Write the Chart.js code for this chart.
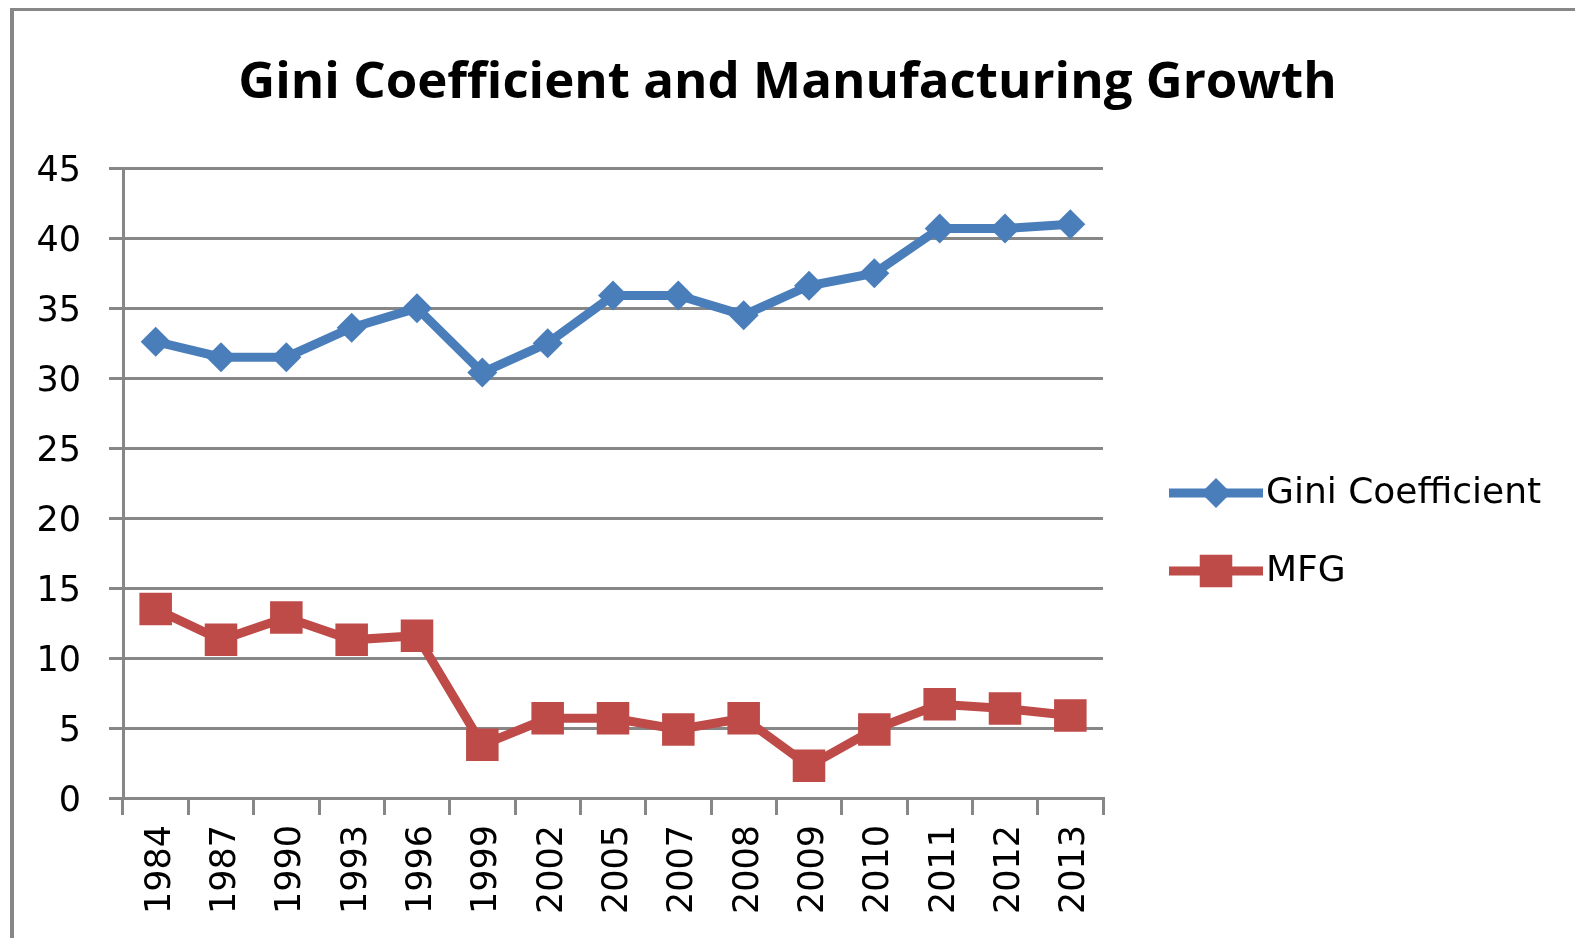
<!DOCTYPE html>
<html>
<head>
<meta charset="utf-8">
<title>Gini Coefficient and Manufacturing Growth</title>
<script src="https://cdn.jsdelivr.net/npm/chart.js@4.4.1/dist/chart.umd.min.js"></script>
<style>
  html, body { margin: 0; padding: 0; background: #fff; overflow: hidden; }
  #wrap { position: relative; width: 1575px; height: 938px; }
  #frame {
    position: absolute; left: 10px; top: 8px; width: 1600px; height: 960px;
    border-top: 3px solid #878787; border-left: 4px solid #878787;
  }
  #chart { position: absolute; left: 0; top: 0; }
</style>
</head>
<body>
<div id="wrap">
  <div id="frame"></div>
  <canvas id="chart" width="1575" height="938"></canvas>
</div>
<script>
// CHART DATA
const years = ["1984", "1987", "1990", "1993", "1996", "1999", "2002", "2005",
  "2007", "2008", "2009", "2010", "2011", "2012", "2013"]
const gini = [32.6, 31.5, 31.5, 33.6, 35.0, 30.4, 32.5, 35.9, 35.9, 34.5, 36.6,
  37.5, 40.7, 40.7, 41.0]
const mfg = [13.5, 11.3, 12.9, 11.3, 11.6, 3.8, 5.7, 5.7, 4.9, 5.7, 2.3, 4.9,
  6.7, 6.4, 5.9]
const seriesNames = ["Gini Coefficient", "MFG"]

const BLUE = "#4A7EBB"
const RED = "#BE4B48"
const GRID = "#878787"
const TICK_FONT = { family: "DejaVu Sans", size: 35 }

// legend on the right: line with the series marker in the middle
const sideLegend = {
  id: "sideLegend",
  afterDraw(chart) {
    const ctx = chart.ctx
    const rows = [493, 571]
    const x0 = 1169, x1 = 1263
    chart.data.datasets.forEach((ds, i) => {
      const y = rows[i]
      ctx.save()
      ctx.strokeStyle = ds.borderColor
      ctx.lineWidth = ds.borderWidth
      ctx.beginPath()
      ctx.moveTo(x0, y)
      ctx.lineTo(x1, y)
      ctx.stroke()
      ctx.fillStyle = ds.backgroundColor
      const cx = (x0 + x1) / 2
      if (ds.pointStyle === "rect") {
        const s = ds.pointRadius * Math.SQRT1_2
        ctx.fillRect(cx - s, y - s, 2 * s, 2 * s)
      } else {
        const r = ds.pointRadius
        ctx.beginPath()
        ctx.moveTo(cx, y - r)
        ctx.lineTo(cx + r, y)
        ctx.lineTo(cx, y + r)
        ctx.lineTo(cx - r, y)
        ctx.closePath()
        ctx.fill()
      }
      ctx.fillStyle = "#000"
      ctx.font = "36px 'DejaVu Sans'"
      ctx.textBaseline = "middle"
      ctx.fillText(ds.label, x1 + 3, y + 1)
      ctx.restore()
    })
  },
}

const ctx = document.getElementById("chart").getContext("2d")

new Chart(ctx, {
  type: "line",
  data: {
    labels: years,
    datasets: [
      {
        label: seriesNames[0],
        data: gini,
        borderColor: BLUE,
        backgroundColor: BLUE,
        borderWidth: 9,
        pointStyle: "rectRot",
        pointRadius: 15,
        pointBorderWidth: 0,
        pointBackgroundColor: BLUE,
        fill: false,
        tension: 0,
      },
      {
        label: seriesNames[1],
        data: mfg,
        borderColor: RED,
        backgroundColor: RED,
        borderWidth: 9,
        pointStyle: "rect",
        pointRadius: 23,
        pointBorderWidth: 0,
        pointBackgroundColor: RED,
        fill: false,
        tension: 0,
      },
    ],
  },
  options: {
    responsive: false,
    animation: false,
    events: [],
    layout: { padding: 0 },
    plugins: {
      legend: { display: false },
      tooltip: { enabled: false },
      title: {
        display: true,
        text: "Gini Coefficient and Manufacturing Growth",
        color: "#000",
        font: { family: "Open Sans", size: 51, weight: "bold", lineHeight: 1.2 },
        padding: { top: 53, bottom: 54 },
      },
    },
    scales: {
      x: {
        offset: true,
        grid: {
          display: true,
          offset: true,
          drawOnChartArea: false,
          drawTicks: true,
          tickLength: 17,
          color: GRID,
          lineWidth: 3,
        },
        border: { color: GRID, width: 3 },
        ticks: {
          color: "#000",
          font: TICK_FONT,
          minRotation: 90,
          maxRotation: 90,
          padding: 10,
          labelOffset: 5,
          autoSkip: false,
        },
        afterFit(scale) { scale.height = 140 },
      },
      y: {
        min: 0,
        max: 45,
        grid: {
          color: GRID,
          lineWidth: 3,
          tickLength: 14,
        },
        border: { color: GRID, width: 3 },
        ticks: {
          stepSize: 5,
          color: "#000",
          font: TICK_FONT,
          padding: 28,
          labelOffset: 4,
        },
        afterFit(scale) { scale.width = 123 },
      },
      // empty right-hand axis that keeps room for the legend
      side: {
        type: "linear",
        position: "right",
        display: true,
        grid: { display: false, drawTicks: false },
        border: { display: false },
        ticks: { display: false },
        afterFit(scale) { scale.width = 472 },
      },
    },
  },
  plugins: [sideLegend],
})
</script>
</body>
</html>
